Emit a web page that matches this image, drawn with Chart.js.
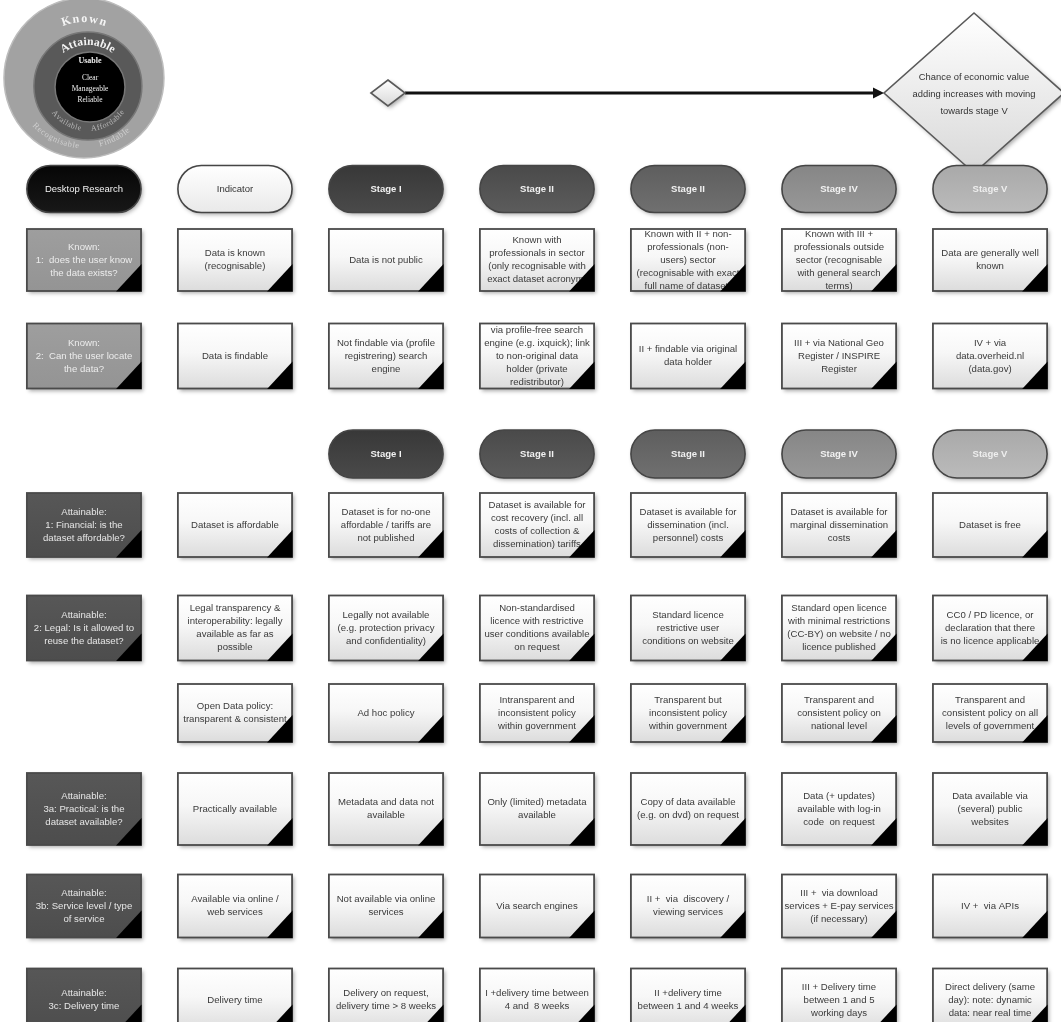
<!DOCTYPE html>
<html lang="en">
<head>
<meta charset="UTF-8">
<title>Open data usability stages</title>
<style>
  html, body { margin: 0; padding: 0; background: #fff; }
  #wrap { width: 1061px; height: 1022px; }
</style>
</head>
<body>
<div id="wrap"><canvas id="diagram" width="1061" height="1022"></canvas></div>

<script src="https://cdn.jsdelivr.net/npm/chart.js"></script>
<script>
  // ---- content ----
  const ringLabels = ["Known", "Attainable", "Usable"];
  const ringQualities = [["Recognisable", "Findable"], ["Available", "Affordable"], ["Clear", "Manageable", "Reliable"]];
  const arrowNote = "Chance of economic value\nadding increases with moving\ntowards stage V";

  const stageHeaders = ["Desktop Research", "Indicator", "Stage I", "Stage II", "Stage II", "Stage IV", "Stage V"];
  const stageHeaders2 = [null, null, "Stage I", "Stage II", "Stage II", "Stage IV", "Stage V"];

  const knownRow1 = [
    "Known:\n1:  does the user know\nthe data exists?",
    "Data is known\n(recognisable)",
    "Data is not public",
    "Known with\nprofessionals in sector\n(only recognisable with\nexact dataset acronym)",
    "Known with II + non-\nprofessionals (non-\nusers) sector\n(recognisable with exact\nfull name of dataset)",
    "Known with III +\nprofessionals outside\nsector (recognisable\nwith general search\nterms)",
    "Data are generally well\nknown"
  ];
  const knownRow2 = [
    "Known:\n2:  Can the user locate\nthe data?",
    "Data is findable",
    "Not findable via (profile\nregistrering) search\nengine",
    "via profile-free search\nengine (e.g. ixquick); link\nto non-original data\nholder (private\nredistributor)",
    "II + findable via original\ndata holder",
    "III + via National Geo\nRegister / INSPIRE\nRegister",
    "IV + via\ndata.overheid.nl\n(data.gov)"
  ];
  const financialRow = [
    "Attainable:\n1: Financial: is the\ndataset affordable?",
    "Dataset is affordable",
    "Dataset is for no-one\naffordable / tariffs are\nnot published",
    "Dataset is available for\ncost recovery (incl. all\ncosts of collection &\ndissemination) tariffs",
    "Dataset is available for\ndissemination (incl.\npersonnel) costs",
    "Dataset is available for\nmarginal dissemination\ncosts",
    "Dataset is free"
  ];
  const legalRow = [
    "Attainable:\n2: Legal: Is it allowed to\nreuse the dataset?",
    "Legal transparency &\ninteroperability: legally\navailable as far as\npossible",
    "Legally not available\n(e.g. protection privacy\nand confidentiality)",
    "Non-standardised\nlicence with restrictive\nuser conditions available\non request",
    "Standard licence\nrestrictive user\nconditions on website",
    "Standard open licence\nwith minimal restrictions\n(CC-BY) on website / no\nlicence published",
    "CC0 / PD licence, or\ndeclaration that there\nis no licence applicable"
  ];
  const policyRow = [
    null,
    "Open Data policy:\ntransparent & consistent",
    "Ad hoc policy",
    "Intransparent and\ninconsistent policy\nwithin government",
    "Transparent but\ninconsistent policy\nwithin government",
    "Transparent and\nconsistent policy on\nnational level",
    "Transparent and\nconsistent policy on all\nlevels of government"
  ];
  const practicalRow = [
    "Attainable:\n3a: Practical: is the\ndataset available?",
    "Practically available",
    "Metadata and data not\navailable",
    "Only (limited) metadata\navailable",
    "Copy of data available\n(e.g. on dvd) on request",
    "Data (+ updates)\navailable with log-in\ncode  on request",
    "Data available via\n(several) public\nwebsites"
  ];
  const serviceRow = [
    "Attainable:\n3b: Service level / type\nof service",
    "Available via online /\nweb services",
    "Not available via online\nservices",
    "Via search engines",
    "II +  via  discovery /\nviewing services",
    "III +  via download\nservices + E-pay services\n(if necessary)",
    "IV +  via APIs"
  ];
  const deliveryRow = [
    "Attainable:\n3c: Delivery time",
    "Delivery time",
    "Delivery on request,\ndelivery time > 8 weeks",
    "I +delivery time between\n4 and  8 weeks",
    "II +delivery time\nbetween 1 and 4 weeks",
    "III + Delivery time\nbetween 1 and 5\nworking days",
    "Direct delivery (same\nday): note: dynamic\ndata: near real time"
  ];

  // ---- layout (y in axis units, x in column units) ----
  const rowLayout = [
    { values: stageHeaders,  kind: 'pill', y: 189, h: 47 },
    { values: knownRow1,     kind: 'box',  y: 260, h: 62, tone: 'known' },
    { values: knownRow2,     kind: 'box',  y: 356, h: 65, tone: 'known' },
    { values: stageHeaders2, kind: 'pill', y: 454, h: 48 },
    { values: financialRow,  kind: 'box',  y: 525, h: 64, tone: 'attain' },
    { values: legalRow,      kind: 'box',  y: 628, h: 65, tone: 'attain' },
    { values: policyRow,     kind: 'box',  y: 713, h: 58, tone: 'attain' },
    { values: practicalRow,  kind: 'box',  y: 809, h: 72, tone: 'attain' },
    { values: serviceRow,    kind: 'box',  y: 906, h: 63, tone: 'attain' },
    { values: deliveryRow,   kind: 'box',  y: 1000, h: 63, tone: 'attain' }
  ];
  const colHalf = 0.378;
  const pillColors = ['#060606', '#ffffff', '#383838', '#4a4a4a', '#5e5e5e', '#868686', '#a9a9a9'];
  const rings = [
    { x: 0, y: 78, r: 80, fill: '#a2a2a2', text: '#f4f4f4', sub: '#cfcfcf' },
    { x: 0.026, y: 86, r: 54, fill: '#595959', text: '#f4f4f4', sub: '#b4b4b4' },
    { x: 0.04, y: 87, r: 35, fill: '#000000', text: '#f0f0f0', sub: '#e8e8e8' }
  ];
  const smallDiamond = { x: 2.013, y: 93, hw: 0.113, hh: 13 };
  const bigDiamond = { x: 5.894, y: 93, hw: 0.596, hh: 80 };

  const FONT = '"Liberation Sans", Arial, sans-serif';
  const SERIF = '"Liberation Serif", "DejaVu Serif", serif';

  // ---- datasets ----
  const datasets = rowLayout.map((row, ri) => ({
    label: 'row' + ri,
    kind: row.kind,
    tone: row.tone,
    rowH: row.h,
    pointRadius: 0,
    data: row.values
      .map((t, i) => t == null ? null : { x: i, y: row.y, t: t })
      .filter(p => p)
  }));

  function roundRect(ctx, l, t, w, h, r) {
    ctx.beginPath();
    ctx.moveTo(l + r, t);
    ctx.lineTo(l + w - r, t);
    ctx.arc(l + w - r, t + r, r, -Math.PI / 2, Math.PI / 2);
    ctx.lineTo(l + r, t + h);
    ctx.arc(l + r, t + r, r, Math.PI / 2, Math.PI * 1.5);
    ctx.closePath();
  }

  function lighten(hex, amt) {
    const n = parseInt(hex.slice(1), 16);
    const f = c => Math.max(0, Math.min(255, c + amt));
    const r = f(n >> 16), g = f((n >> 8) & 255), b = f(n & 255);
    return `rgb(${r},${g},${b})`;
  }

  function textLines(ctx, text, cx, cy, lh) {
    const lines = text.split('\n');
    const top = cy - (lines.length - 1) * lh / 2;
    ctx.textAlign = 'center';
    ctx.textBaseline = 'middle';
    lines.forEach((ln, i) => ctx.fillText(ln, cx, top + i * lh));
  }

  function drawPill(ctx, cx, cy, w, h, col, label) {
    const l = cx - w / 2, t = cy - h / 2;
    const base = pillColors[col];
    const g = ctx.createLinearGradient(0, t, 0, t + h);
    g.addColorStop(0, base);
    g.addColorStop(1, lighten(base, col === 1 ? -22 : 18));
    ctx.save();
    ctx.shadowColor = 'rgba(0,0,0,0.35)';
    ctx.shadowBlur = 4;
    ctx.shadowOffsetX = 1.5;
    ctx.shadowOffsetY = 2;
    roundRect(ctx, l, t, w, h, h / 2);
    ctx.fillStyle = g;
    ctx.fill();
    ctx.restore();
    roundRect(ctx, l, t, w, h, h / 2);
    ctx.strokeStyle = '#454545';
    ctx.lineWidth = 1.6;
    ctx.stroke();
    ctx.fillStyle = col === 1 ? '#333' : (col === 6 ? '#eeeeee' : '#f2f2f2');
    ctx.font = (col >= 2 ? 'bold ' : '') + '9.5px ' + FONT;
    textLines(ctx, label, cx, cy, 12);
  }

  function drawBox(ctx, cx, cy, w, h, tone, text, col) {
    const l = cx - w / 2, t = cy - h / 2;
    let g;
    if (col === 0) {
      const base = tone === 'known' ? '#9a9a9a' : '#535353';
      g = ctx.createLinearGradient(0, t, 0, t + h);
      g.addColorStop(0, lighten(base, 4));
      g.addColorStop(1, lighten(base, -6));
    } else {
      g = ctx.createLinearGradient(0, t, 0, t + h);
      g.addColorStop(0, '#ffffff');
      g.addColorStop(0.45, '#f7f7f7');
      g.addColorStop(1, '#dcdcdc');
    }
    ctx.save();
    ctx.shadowColor = 'rgba(0,0,0,0.35)';
    ctx.shadowBlur = 4;
    ctx.shadowOffsetX = 2;
    ctx.shadowOffsetY = 2;
    ctx.fillStyle = g;
    ctx.fillRect(l, t, w, h);
    ctx.restore();
    ctx.strokeStyle = '#4a4a4a';
    ctx.lineWidth = 1.8;
    ctx.strokeRect(l, t, w, h);

    ctx.save();
    ctx.beginPath();
    ctx.rect(l, t - 4, w, h + 8);
    ctx.clip();
    ctx.fillStyle = col === 0 ? (tone === 'known' ? '#ececec' : '#e6e6e6') : '#3a3a3a';
    ctx.font = '9.6px ' + FONT;
    textLines(ctx, text, cx, cy, 13);
    ctx.restore();

    const r = l + w, b = t + h;
    ctx.beginPath();
    ctx.moveTo(r + 0.5, b - 27);
    ctx.lineTo(r + 0.5, b + 0.5);
    ctx.lineTo(r - 25, b + 0.5);
    ctx.closePath();
    ctx.fillStyle = '#000';
    ctx.fill();
  }

  function arcText(ctx, text, cx, cy, r, mid, top, spacing) {
    const chars = [...text];
    const widths = chars.map(c => ctx.measureText(c).width + spacing);
    const total = widths.reduce((a, b) => a + b, 0) - spacing;
    let a = top ? mid - total / (2 * r) : mid + total / (2 * r);
    ctx.textAlign = 'center';
    ctx.textBaseline = 'middle';
    chars.forEach((ch, i) => {
      const cw = widths[i] - spacing;
      const ac = top ? a + cw / (2 * r) : a - cw / (2 * r);
      ctx.save();
      ctx.translate(cx + r * Math.cos(ac), cy + r * Math.sin(ac));
      ctx.rotate(top ? ac + Math.PI / 2 : ac - Math.PI / 2);
      ctx.fillText(ch, 0, 0);
      ctx.restore();
      a = top ? a + widths[i] / r : a - widths[i] / r;
    });
  }

  function drawDiamond(ctx, cx, cy, hw, hh, shadow) {
    ctx.save();
    if (shadow) {
      ctx.shadowColor = 'rgba(0,0,0,0.35)';
      ctx.shadowBlur = 4;
      ctx.shadowOffsetX = 2;
      ctx.shadowOffsetY = 2;
    }
    const g = ctx.createLinearGradient(0, cy - hh, 0, cy + hh);
    g.addColorStop(0, '#ffffff');
    g.addColorStop(1, '#d8d8d8');
    ctx.beginPath();
    ctx.moveTo(cx, cy - hh);
    ctx.lineTo(cx + hw, cy);
    ctx.lineTo(cx, cy + hh);
    ctx.lineTo(cx - hw, cy);
    ctx.closePath();
    ctx.fillStyle = g;
    ctx.fill();
    ctx.restore();
    ctx.strokeStyle = '#5a5a5a';
    ctx.lineWidth = 1.6;
    ctx.stroke();
  }

  const diagramPlugin = {
    id: 'diagram',
    afterDatasetsDraw(chart) {
      const { ctx, scales: { x, y } } = chart;
      const px = v => x.getPixelForValue(v);
      const py = v => y.getPixelForValue(v);
      const dy = v => Math.abs(py(v) - py(0));

      // maturity rings
      ctx.save();
      rings.forEach((rg, i) => {
        ctx.beginPath();
        ctx.arc(px(rg.x), py(rg.y), dy(rg.r), 0, Math.PI * 2);
        ctx.fillStyle = rg.fill;
        ctx.fill();
        ctx.strokeStyle = i === 0 ? '#bdbdbd' : '#777';
        ctx.lineWidth = 1.5;
        ctx.stroke();
      });
      const [o, m, n] = rings;
      ctx.fillStyle = o.text;
      ctx.font = 'bold 12px ' + SERIF;
      arcText(ctx, ringLabels[0], px(o.x), py(o.y), dy(59), -Math.PI / 2, true, 2);
      ctx.fillStyle = m.text;
      ctx.font = 'bold 11.5px ' + SERIF;
      arcText(ctx, ringLabels[1], px(m.x), py(m.y), dy(44), -Math.PI / 2, true, 0.5);
      ctx.fillStyle = n.text;
      ctx.font = 'bold 8px ' + SERIF;
      ctx.textAlign = 'center';
      ctx.textBaseline = 'middle';
      ctx.fillText(ringLabels[2], px(n.x), py(n.y) - dy(26));
      ctx.font = '7.5px ' + SERIF;
      ringQualities[2].forEach((q, i) => ctx.fillText(q, px(n.x), py(n.y) - dy(9) + i * 11));
      ctx.fillStyle = m.sub;
      ctx.font = '8px ' + SERIF;
      arcText(ctx, ringQualities[1][0], px(m.x), py(m.y), dy(43), 2.12, false, 0.3);
      arcText(ctx, ringQualities[1][1], px(m.x), py(m.y), dy(43), 1.06, false, 0.3);
      ctx.fillStyle = o.sub;
      ctx.font = '8.5px ' + SERIF;
      arcText(ctx, ringQualities[0][0], px(o.x), py(o.y), dy(68), 2.02, false, 0.5);
      arcText(ctx, ringQualities[0][1], px(o.x), py(o.y), dy(68), 1.1, false, 0.5);
      ctx.restore();

      // progression arrow
      const sx = px(smallDiamond.x), sy = py(smallDiamond.y);
      const shw = px(smallDiamond.x + smallDiamond.hw) - sx;
      const bx = px(bigDiamond.x), by = py(bigDiamond.y);
      const bhw = px(bigDiamond.x + bigDiamond.hw) - bx;
      const tipX = bx - bhw;
      ctx.save();
      ctx.strokeStyle = '#111';
      ctx.lineWidth = 3;
      ctx.beginPath();
      ctx.moveTo(sx + shw, sy);
      ctx.lineTo(tipX - 8, sy);
      ctx.stroke();
      ctx.beginPath();
      ctx.moveTo(tipX, sy);
      ctx.lineTo(tipX - 11, sy - 5.5);
      ctx.lineTo(tipX - 11, sy + 5.5);
      ctx.closePath();
      ctx.fillStyle = '#111';
      ctx.fill();
      ctx.restore();
      drawDiamond(ctx, sx, sy, shw, dy(smallDiamond.hh), true);
      drawDiamond(ctx, bx, by, bhw, dy(bigDiamond.hh), true);
      ctx.fillStyle = '#333';
      ctx.font = '9.4px ' + FONT;
      textLines(ctx, arrowNote, bx, by + 1, 17);

      // grid of pills and boxes
      chart.data.datasets.forEach((ds, di) => {
        const meta = chart.getDatasetMeta(di);
        meta.data.forEach((pt, j) => {
          const raw = ds.data[j];
          const w = px(raw.x + colHalf) - px(raw.x - colHalf);
          const h = dy(ds.rowH);
          if (ds.kind === 'pill') drawPill(ctx, pt.x, pt.y, w, h, raw.x, raw.t);
          else drawBox(ctx, pt.x, pt.y, w, h, ds.tone, raw.t, raw.x);
        });
      });
    }
  };

  new Chart(document.getElementById('diagram'), {
    type: 'scatter',
    data: { datasets: datasets },
    options: {
      responsive: false,
      animation: false,
      events: [],
      layout: { padding: 0 },
      plugins: { legend: { display: false }, tooltip: { enabled: false } },
      scales: {
        x: { type: 'linear', display: false, min: -0.556, max: 6.47 },
        y: { type: 'linear', display: false, min: 0, max: 1022, reverse: true }
      }
    },
    plugins: [diagramPlugin]
  });
</script>
</body>
</html>
